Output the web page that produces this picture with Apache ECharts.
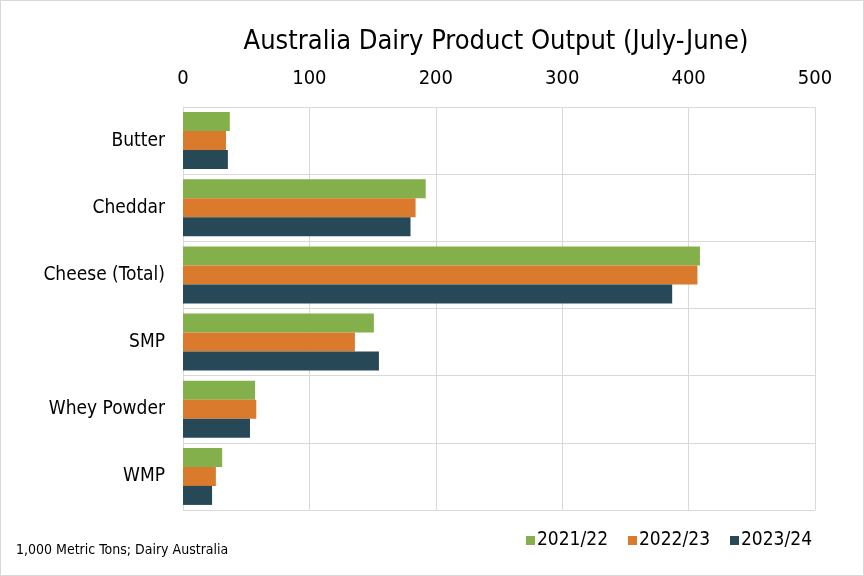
<!DOCTYPE html>
<html>
<head>
<meta charset="utf-8">
<script src="https://cdn.jsdelivr.net/npm/echarts@6/dist/echarts.min.js"></script>
<style>
  html, body { margin: 0; padding: 0; background: #fff; }
  #chart { width: 862px; height: 574px; border: 1px solid #d9d9d9; }
</style>
</head>
<body>
<div id="chart"></div>
<script>
const categories = ['Butter', 'Cheddar', 'Cheese (Total)', 'SMP', 'Whey Powder', 'WMP']
const seriesNames = ['2021/22', '2022/23', '2023/24']
const values2122 = [37, 192, 409, 151, 57, 31]
const values2223 = [34, 184, 407, 136, 58, 26]
const values2324 = [35.5, 180, 387, 155, 53, 23]
const colors = ['#84b04b', '#d97a2c', '#264857']

const font = '"Liberation Sans Narrow", "DejaVu Sans Condensed", sans-serif'
const chart = echarts.init(document.getElementById('chart'))

const dataSets = [values2122, values2223, values2324]

const option = {
  animation: false,
  title: {
    text: 'Australia Dairy Product Output (July-June)',
    left: 490,
    textAlign: 'center',
    top: 22,
    textStyle: { fontFamily: font, fontSize: 27, fontWeight: 'normal', color: '#000' }
  },
  grid: { left: 182, right: 48, top: 106, bottom: 65, containLabel: false },
  xAxis: {
    type: 'value',
    position: 'top',
    min: 0,
    max: 500,
    interval: 100,
    axisLine: { show: false },
    axisTick: { show: false },
    axisLabel: { fontFamily: font, fontSize: 20, color: '#000', margin: 18 },
    splitLine: { lineStyle: { color: '#d9d9d9', width: 1 } }
  },
  yAxis: {
    type: 'category',
    data: categories,
    inverse: true,
    axisLine: { lineStyle: { color: '#d9d9d9' } },
    axisTick: { show: false },
    axisLabel: { fontFamily: font, fontSize: 19, color: '#000', margin: 18, padding: [4, 0, 0, 0] },
    splitLine: { show: true, lineStyle: { color: '#d9d9d9', width: 1 } }
  },
  legend: {
    data: seriesNames,
    right: 46,
    bottom: 20,
    itemWidth: 9,
    itemHeight: 9,
    itemGap: 20,
    icon: 'rect',
    textStyle: { fontFamily: font, fontSize: 19, color: '#000', padding: [0, 0, 0, -3] }
  },
  graphic: [{
    type: 'text',
    left: 15,
    top: 542,
    style: { text: '1,000 Metric Tons; Dairy Australia', fontFamily: font, fontSize: 14, fill: '#000' }
  }],
  series: seriesNames.map((name, i) => ({
    name,
    type: 'bar',
    data: dataSets[i],
    barWidth: 19,
    barGap: '0%',
    itemStyle: { color: colors[i] }
  }))
}

chart.setOption(option)
</script>
</body>
</html>
